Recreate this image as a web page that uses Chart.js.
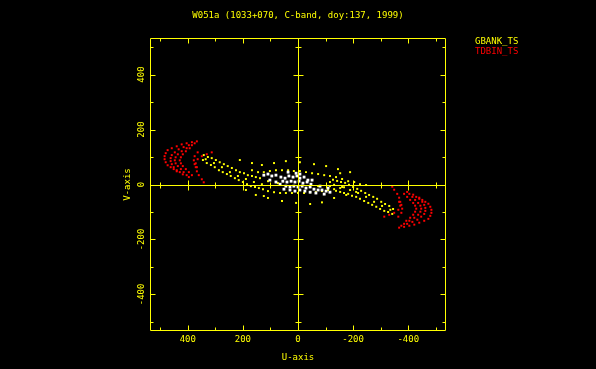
<!DOCTYPE html>
<html>
<head>
<meta charset="utf-8">
<script src="https://cdn.jsdelivr.net/npm/chart.js@4.4.0/dist/chart.umd.min.js"></script>
<style>
html,body{margin:0;padding:0;background:#000;}
#wrap{width:596px;height:369px;position:relative;background:#000;}
</style>
</head>
<body>
<div id="wrap"><canvas id="c"></canvas></div>
<script>
// ---- Data ----
const titleText = "W051a (1033+070, C-band, doy:137, 1999)";
const seriesNames = ["GBANK_TS", "TDBIN_TS"];
const xTitle = "U-axis";
const yTitle = "V-axis";
const majorTicks = [-400, -200, 0, 200, 400];
const majorLabels = ["-400", "-200", "0", "200", "400"];
const minorTicks = [-500, -300, -100, 100, 300, 500];

// GBANK_TS (yellow)
const gbankU = [342,327,313,298,284,269,255,240,225,211,196,182,167,153,138,
  345,331,316,302,287,273,258,244,229,215,200,185,171,156,142,127,
  335,305,276,247,218,189,160,131,
  124,102,80,58,36,15,-7,-29,-51,-73,-95,-116,-138,-160,-182,-204,-225,-247,
  109,87,65,44,22,0,-22,-44,-65,-87,-109,-131,-153,
  -345,-331,-316,-302,-287,-273,-258,-244,-229,-215,-200,-185,-171,-156,-142,-127,
  -342,-327,-313,-298,-284,-269,-255,-240,-225,-211,-196,-182,-167,-153,-138,
  -335,-305,-276,-247,-218,-189,-160,-131,
  211,167,131,87,44,-7,-58,-102,-145,-189,189,153,109,58,7,-44,-87,-131,-175,-211,109,73,-73,-116,-167,145,-116,124,-153,167];
const gbankV = [107,100,96,89,81,74,67,60,52,45,41,34,31,27,23,
  89,78,71,63,52,45,38,31,23,16,9,1,-6,-9,-13,-17,
  92,78,63,45,31,20,9,1,
  45,49,52,52,52,49,49,45,41,38,34,31,27,20,12,9,1,-2,
  -24,-28,-31,-31,-31,-31,-31,-28,-28,-24,-20,-17,-13,
  -89,-78,-71,-63,-52,-45,-38,-31,-23,-16,-9,-1,6,9,13,17,
  -107,-100,-96,-89,-81,-74,-67,-60,-52,-45,-41,-34,-31,-27,-23,
  -92,-78,-63,-45,-31,-20,-9,-1,
  89,78,71,78,85,81,74,67,56,45,-20,-38,-49,-60,-67,-71,-65,-49,-38,-27,12,5,-6,-6,-10,45,9,-42,41,52];

// TDBIN_TS (red)
const tdbinU = [367,385,404,422,440,458,473,480,484,484,480,473,462,451,440,
  375,396,415,433,447,458,462,462,458,451,440,429,418,
  385,404,422,436,444,447,444,436,425,415,404,396,
  393,407,418,425,429,425,418,407,396,385,
  364,375,378,375,367,
  313,331,349,364,371,371,367,360,349,342,
  -367,-385,-404,-422,-440,-458,-473,-480,-484,-484,-480,-473,-462,-451,-440,
  -375,-396,-415,-433,-447,-458,-462,-462,-458,-451,-440,-429,-418,
  -385,-404,-422,-436,-444,-447,-444,-436,-425,-415,-404,-396,
  -393,-407,-418,-425,-429,-425,-418,-407,-396,-385,
  -364,-375,-378,-375,-367,
  -313,-331,-349,-364,-371,-371,-367,-360,-349,-342];
const tdbinV = [157,154,150,146,139,132,125,114,103,92,81,70,63,56,48,
  150,143,136,128,117,107,96,85,74,63,52,45,37,
  143,132,121,110,99,88,77,67,56,45,34,27,
  132,121,110,99,88,77,67,56,45,34,
  117,103,88,74,63,
  117,110,103,92,77,63,48,34,19,8,
  -157,-154,-150,-146,-139,-132,-125,-114,-103,-92,-81,-70,-63,-56,-48,
  -150,-143,-136,-128,-117,-107,-96,-85,-74,-63,-52,-45,-37,
  -143,-132,-121,-110,-99,-88,-77,-67,-56,-45,-34,-27,
  -132,-121,-110,-99,-88,-77,-67,-56,-45,-34,
  -117,-103,-88,-74,-63,
  -117,-110,-103,-92,-77,-63,-48,-34,-19,-8];

// short baselines (white, unlabeled)
const shortU = [124,109,95,80,62,47,33,18,4,-7,-22,55,40,25,11,-4,-18,-33,-47,44,29,15,0,-15,-29,-44,-58,-73,-87,-102,-116,65,80,29,11,-7,-25,-44,-65,-95,102,36,7,-7,-36,-51,51,-80,-109];
const shortV = [34,38,31,34,27,23,31,27,31,23,27,12,9,12,9,12,5,9,1,-6,-9,-6,-9,-6,-13,-9,-17,-20,-20,-24,-28,1,9,-20,-24,-20,-24,-28,-31,-35,16,45,41,38,16,16,-17,-6,-13];

const YEL = "#ffff00", RED = "#ff0000", WHT = "#ffffff";
const FONT = '9px "DejaVu Sans Mono"';

function pts(us, vs){ return us.map((u,i)=>({x:u, y:vs[i]})); }

const framePlugin = {
  id: 'frame',
  afterDatasetsDraw(chart){
    const {ctx, chartArea:a, scales:{x, y}} = chart;
    const L = Math.round(a.left)+0.5, R = Math.round(a.right)-0.5;
    const T = Math.round(a.top)+0.5, B = Math.round(a.bottom)-0.5;
    const px = v => Math.round(x.getPixelForValue(v))+0.5;
    const py = v => Math.round(y.getPixelForValue(v))+0.5;
    const X0 = px(0), Y0 = py(0);
    ctx.save();
    ctx.strokeStyle = YEL; ctx.lineWidth = 1;
    ctx.beginPath();
    ctx.rect(L, T, R-L, B-T);
    ctx.moveTo(L, Y0); ctx.lineTo(R, Y0);
    ctx.moveTo(X0, T); ctx.lineTo(X0, B);
    const tick = (t, len) => {
      const tx = px(t), ty = py(t);
      ctx.moveTo(tx, B); ctx.lineTo(tx, B-len);
      ctx.moveTo(tx, T); ctx.lineTo(tx, T+len);
      ctx.moveTo(L, ty); ctx.lineTo(L+len, ty);
      ctx.moveTo(R, ty); ctx.lineTo(R-len, ty);
      if (t !== 0) {
        ctx.moveTo(tx, Y0-len); ctx.lineTo(tx, Y0+len);
        ctx.moveTo(X0-len, ty); ctx.lineTo(X0+len, ty);
      }
    };
    majorTicks.forEach(t => tick(t, 5));
    minorTicks.forEach(t => tick(t, 3));
    ctx.stroke();

    ctx.fillStyle = YEL; ctx.font = FONT;
    ctx.textAlign = 'center'; ctx.textBaseline = 'middle';
    ctx.fillText(titleText, (a.left+a.right)/2, 16);
    majorTicks.forEach((t,i) => ctx.fillText(majorLabels[i], x.getPixelForValue(t), a.bottom+9));
    ctx.fillText(xTitle, (a.left+a.right)/2, a.bottom+27);
    majorTicks.forEach((t,i) => {
      ctx.save();
      ctx.translate(a.left-8.5, y.getPixelForValue(t));
      ctx.rotate(-Math.PI/2);
      ctx.fillText(majorLabels[i], 0, 0);
      ctx.restore();
    });
    ctx.save();
    ctx.translate(a.left-22, (a.top+a.bottom)/2);
    ctx.rotate(-Math.PI/2);
    ctx.fillText(yTitle, 0, 0);
    ctx.restore();
    ctx.textAlign = 'left';
    ctx.fillStyle = YEL; ctx.fillText(seriesNames[0], a.right+29, 42);
    ctx.fillStyle = RED; ctx.fillText(seriesNames[1], a.right+29, 52);
    ctx.restore();
  }
};

const bgPlugin = {
  id: 'bg',
  beforeDraw(chart){
    const ctx = chart.ctx;
    ctx.save(); ctx.fillStyle = '#000';
    ctx.fillRect(0,0,chart.width,chart.height); ctx.restore();
  }
};

new Chart(document.getElementById('c'), {
  type: 'scatter',
  data: {
    datasets: [
      {label: seriesNames[0], data: pts(gbankU, gbankV), backgroundColor: YEL, borderColor: YEL, order: 3},
      {label: seriesNames[1], data: pts(tdbinU, tdbinV), backgroundColor: RED, borderColor: RED, order: 2, pointRadius: 1.4},
      {label: '', data: pts(shortU, shortV), backgroundColor: WHT, borderColor: WHT, order: 1, pointRadius: 2}
    ]
  },
  options: {
    responsive: true,
    maintainAspectRatio: false,
    animation: false,
    layout: {padding: {left: 150, right: 150, top: 38, bottom: 38}},
    elements: {point: {pointStyle: 'rect', radius: 1.4, borderWidth: 0, hoverRadius: 1.4}},
    plugins: {legend: {display: false}, tooltip: {enabled: false}, title: {display: false}},
    events: [],
    scales: {
      x: {type: 'linear', min: -537, max: 537, reverse: true, display: false},
      y: {type: 'linear', min: -533, max: 533, display: false}
    }
  },
  plugins: [bgPlugin, framePlugin]
});
</script>
</body>
</html>
